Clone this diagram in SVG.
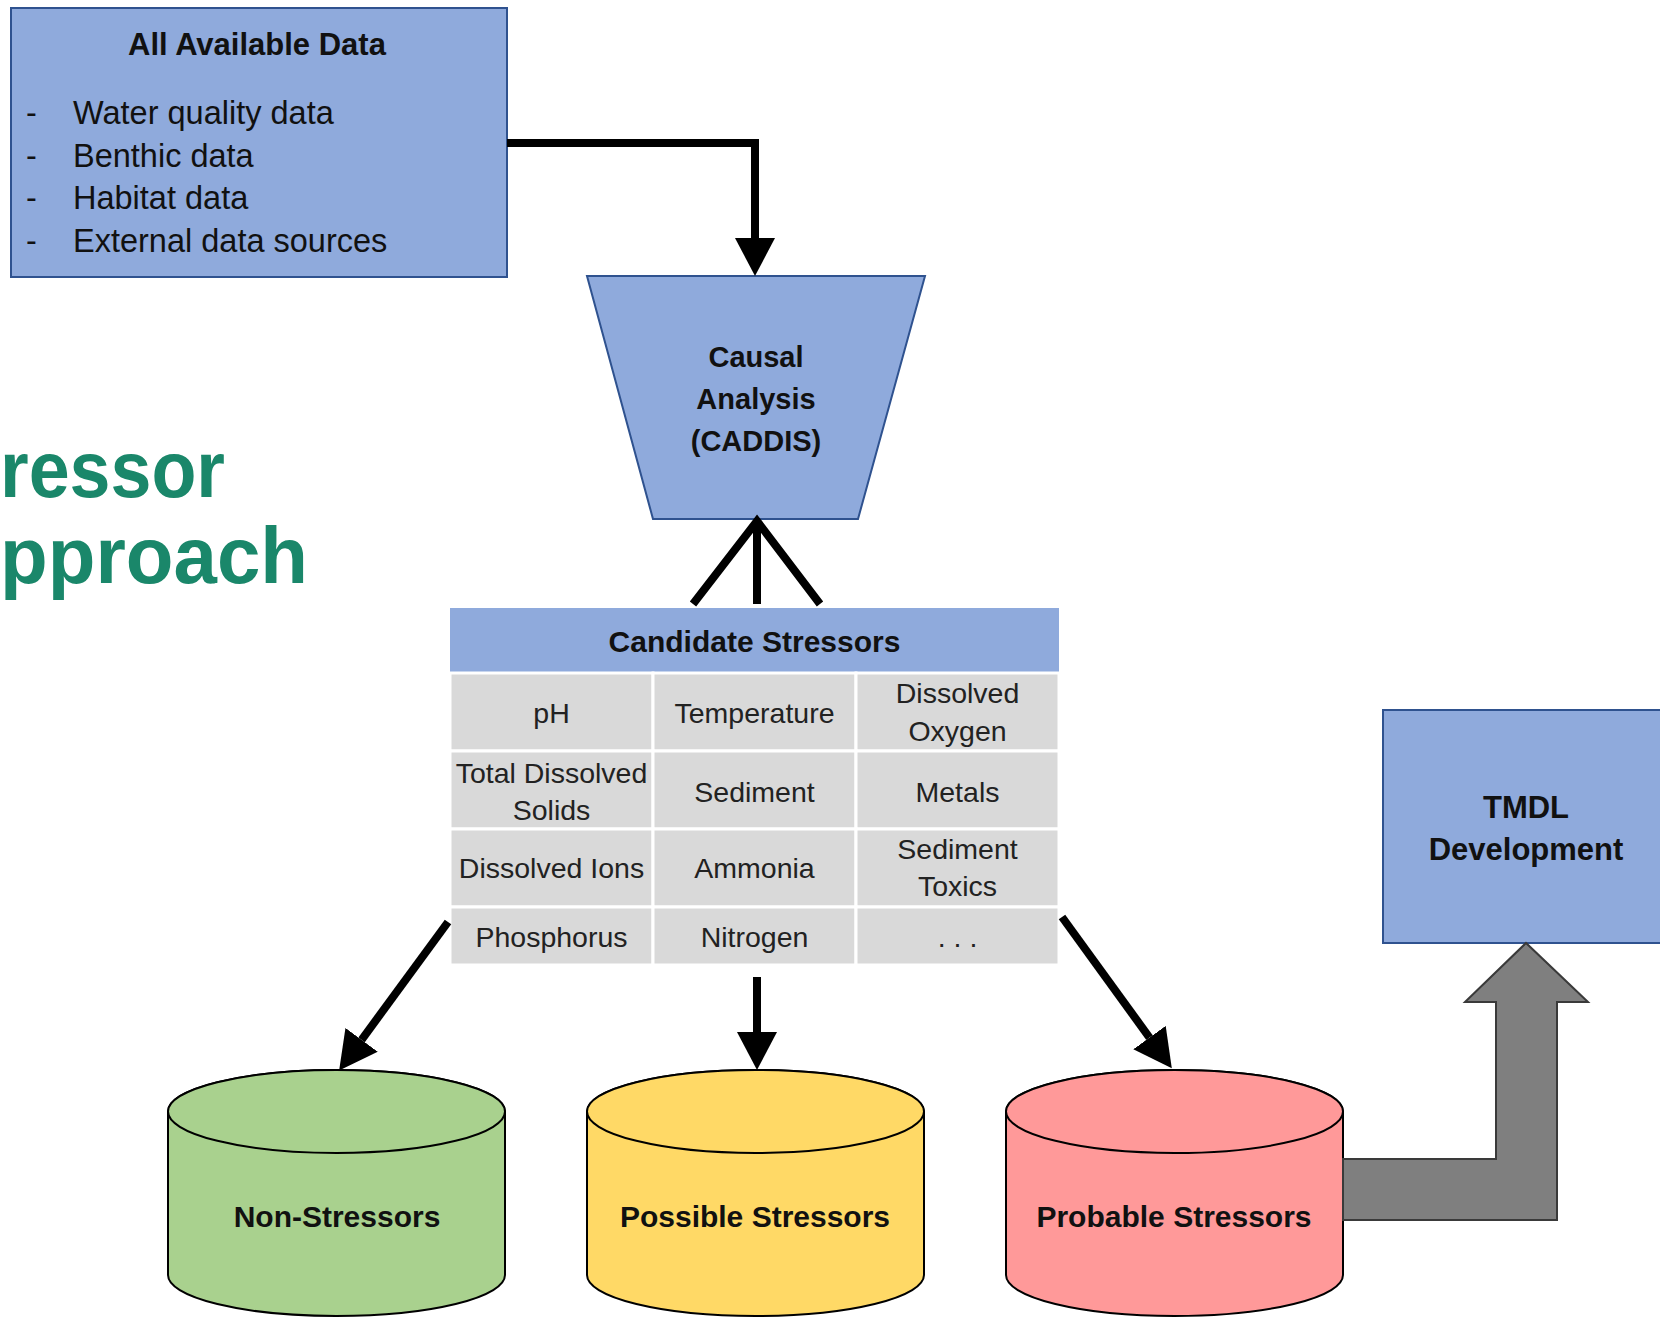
<svg xmlns="http://www.w3.org/2000/svg" width="1660" height="1317" viewBox="0 0 1660 1317">
<style>
.blue{fill:#8faadc;stroke:#2f528f;stroke-width:2}
.cell{fill:#d9d9d9;stroke:#ffffff;stroke-width:3}
.cyl{stroke:#000;stroke-width:2}
.b{font-family:"Liberation Sans",Arial,sans-serif;font-weight:bold;font-size:30px;fill:#111;text-anchor:middle}
.r{font-family:"Liberation Sans",Arial,sans-serif;font-size:32.5px;fill:#111}
.c{font-family:"Liberation Sans",Arial,sans-serif;font-size:28.5px;fill:#222;text-anchor:middle}
.t{font-family:"Liberation Sans",Arial,sans-serif;font-weight:bold;font-size:80px;fill:#1a876a}
.ln{fill:none;stroke:#000;stroke-width:8}
</style>
<defs>
<marker id="ah" viewBox="0 0 38 40" refX="0" refY="20" markerWidth="38" markerHeight="40" markerUnits="userSpaceOnUse" orient="auto">
<path d="M0,0 L38,20 L0,40 Z" fill="#000"/>
</marker>
</defs>
<rect width="1660" height="1317" fill="#fff"/>

<g id="title">
<text class="t" x="0" y="497" textLength="225" lengthAdjust="spacingAndGlyphs">ressor</text>
<text class="t" x="0" y="583" textLength="308" lengthAdjust="spacingAndGlyphs">pproach</text>
</g>

<g id="all-data">
<rect class="blue" x="11" y="8" width="496" height="269"/>
<text class="b" x="257" y="55" style="font-size:31px">All Available Data</text>
<text class="r" x="26" y="124">-</text><text class="r" x="73" y="124">Water quality data</text>
<text class="r" x="26" y="167">-</text><text class="r" x="73" y="167">Benthic data</text>
<text class="r" x="26" y="209">-</text><text class="r" x="73" y="209">Habitat data</text>
<text class="r" x="26" y="252">-</text><text class="r" x="73" y="252">External data sources</text>
</g>

<g id="causal-analysis">
<polygon class="blue" points="587,276 925,276 858,519 653,519"/>
<text class="b" x="756" y="367" style="font-size:29px">Causal</text>
<text class="b" x="756" y="409" style="font-size:29px">Analysis</text>
<text class="b" x="756" y="451" style="font-size:29px">(CADDIS)</text>
</g>

<g id="candidate-stressors">
<rect x="450" y="608" width="609" height="65" fill="#8faadc"/>
<text class="b" x="754.5" y="652">Candidate Stressors</text>
<rect class="cell" x="450" y="673" width="203" height="78"/>
<rect class="cell" x="653" y="673" width="203" height="78"/>
<rect class="cell" x="856" y="673" width="203" height="78"/>
<rect class="cell" x="450" y="751" width="203" height="78"/>
<rect class="cell" x="653" y="751" width="203" height="78"/>
<rect class="cell" x="856" y="751" width="203" height="78"/>
<rect class="cell" x="450" y="829" width="203" height="78"/>
<rect class="cell" x="653" y="829" width="203" height="78"/>
<rect class="cell" x="856" y="829" width="203" height="78"/>
<rect class="cell" x="450" y="907" width="203" height="58"/>
<rect class="cell" x="653" y="907" width="203" height="58"/>
<rect class="cell" x="856" y="907" width="203" height="58"/>
<text class="c" x="551.5" y="723">pH</text>
<text class="c" x="754.5" y="723">Temperature</text>
<text class="c" x="957.5" y="703">Dissolved</text>
<text class="c" x="957.5" y="741">Oxygen</text>
<text class="c" x="551.5" y="783">Total Dissolved</text>
<text class="c" x="551.5" y="820">Solids</text>
<text class="c" x="754.5" y="802">Sediment</text>
<text class="c" x="957.5" y="802">Metals</text>
<text class="c" x="551.5" y="878">Dissolved Ions</text>
<text class="c" x="754.5" y="878">Ammonia</text>
<text class="c" x="957.5" y="859">Sediment</text>
<text class="c" x="957.5" y="896">Toxics</text>
<text class="c" x="551.5" y="947">Phosphorus</text>
<text class="c" x="754.5" y="947">Nitrogen</text>
<text class="c" x="957.5" y="947">. . .</text>
</g>

<g id="non-stressors">
<path class="cyl" fill="#a9d18e" d="M168,1111.5 V1275 A168.5,41 0 0 0 505,1275 V1111.5 A168.5,41.5 0 0 0 168,1111.5 Z"/>
<ellipse class="cyl" fill="#a9d18e" cx="336.5" cy="1111.5" rx="168.5" ry="41.5"/>
<text class="b" x="337" y="1227">Non-Stressors</text>
</g>

<g id="possible-stressors">
<path class="cyl" fill="#ffd966" d="M587,1111.5 V1275 A168.5,41 0 0 0 924,1275 V1111.5 A168.5,41.5 0 0 0 587,1111.5 Z"/>
<ellipse class="cyl" fill="#ffd966" cx="755.5" cy="1111.5" rx="168.5" ry="41.5"/>
<text class="b" x="755" y="1227">Possible Stressors</text>
</g>

<g id="probable-stressors">
<path class="cyl" fill="#ff9999" d="M1006,1111.5 V1275 A168.5,41 0 0 0 1343,1275 V1111.5 A168.5,41.5 0 0 0 1006,1111.5 Z"/>
<ellipse class="cyl" fill="#ff9999" cx="1174.5" cy="1111.5" rx="168.5" ry="41.5"/>
<text class="b" x="1174" y="1227">Probable Stressors</text>
</g>

<g id="tmdl-development">
<rect class="blue" x="1383" y="710" width="290" height="233"/>
<text class="b" x="1526" y="818" style="font-size:31px">TMDL</text>
<text class="b" x="1526" y="860" style="font-size:31px">Development</text>
</g>

<g id="connectors">
<path class="ln" d="M507,143 H755 V238" marker-end="url(#ah)"/>
<path class="ln" d="M693,604 L757,521 L820,604 M757,521 V604" stroke-linejoin="miter"/>
<path class="ln" d="M448,922 L361.6,1039.8" marker-end="url(#ah)"/>
<path class="ln" d="M757,977 V1032" marker-end="url(#ah)"/>
<path class="ln" d="M1062,917 L1149.5,1037.6" marker-end="url(#ah)"/>
<polygon points="1343,1159 1496,1159 1496,1002 1465,1002 1526,943 1588,1002 1557,1002 1557,1220 1343,1220" fill="#7f7f7f" stroke="#3a3a3a" stroke-width="2"/>
</g>
</svg>
